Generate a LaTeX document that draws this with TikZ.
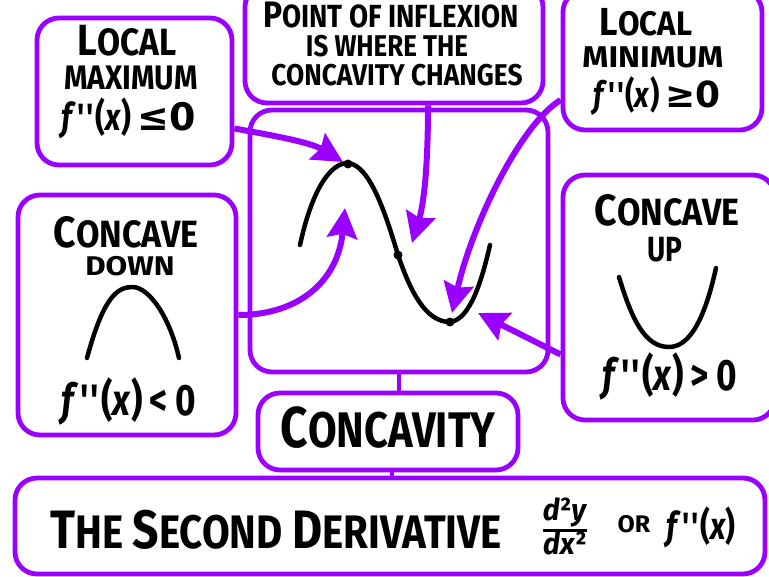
\documentclass[tikz,border=0pt]{standalone}
\usepackage{graphicx}
\usepackage{fontspec}
\setmainfont{Fira Sans}[FakeStretch=0.8]
\newfontfamily\symf{DejaVu Sans}
\usetikzlibrary{arrows.meta}
\definecolor{vio}{RGB}{153,0,255}
\newcommand\Ini[1]{\scalebox{1.15}{#1}}
\newcommand\Hs[2]{\scalebox{#1}[1]{#2}}
\newcommand\Fpp[1]{\textit{f}\kern1pt\textquotesingle\textquotesingle(\textit{x})#1}
\begin{document}
\begin{tikzpicture}[x=1pt,y=-1pt,
  bubble/.style={draw=vio, line width=4.8pt, rounded corners=22pt, inner sep=0pt},
  conn/.style={draw=vio, line width=6pt, -{Stealth[length=30pt,width=30pt,inset=4pt]}},
  link/.style={draw=vio, line width=4.8pt},
  curve/.style={draw=black, line width=4.5pt, line cap=round},
  dot/.style={circle, fill=black, inner sep=0pt, minimum size=9pt},
  lab/.style={font=\bfseries, inner sep=0pt, anchor=base}]
\useasboundingbox (0,0) rectangle (769,577);

% boxes
\node[bubble, minimum width=195pt, minimum height=147pt] (lmax) at (134.5,91.5) {};
\node[bubble, minimum width=298pt, minimum height=118pt] (inflex) at (394,44) {};
\node[bubble, minimum width=199pt, minimum height=140pt] (lmin) at (662.5,60) {};
\node[bubble, minimum width=298pt, minimum height=262pt] (graph) at (399,241) {};
\node[bubble, minimum width=218pt, minimum height=240pt] (cdown) at (127,315) {};
\node[bubble, minimum width=212pt, minimum height=245pt] (cup) at (669,297.5) {};
\node[bubble, minimum width=260pt, minimum height=77pt] (concav) at (388,431.5) {};
\node[bubble, minimum width=750pt, minimum height=96pt] (second) at (390,526) {};

% texts
\node[lab, font=\bfseries\fontsize{38}{38}\selectfont] (lmaxA) at (127,56) {\Hs{1.1}{\Ini{L}OCAL}};
\node[lab, font=\bfseries\fontsize{34}{34}\selectfont] (lmaxB) at (131,90) {\Hs{1.1}{MAXIMUM}};
\node[lab, font=\bfseries\fontsize{38}{38}\selectfont] (lmaxC) at (129,131) {\Fpp{\symf\,≤0}};

\node[lab, font=\bfseries\fontsize{32}{32}\selectfont] (infA) at (391,28) {\Hs{1.08}{\Ini{P}OINT OF INFLEXION}};
\node[lab, font=\bfseries\fontsize{30}{30}\selectfont] (infB) at (387,57) {\Hs{1.08}{IS WHERE THE}};
\node[lab, font=\bfseries\fontsize{30}{30}\selectfont] (infC) at (397,86) {\Hs{1.1}{CONCAVITY CHANGES}};

\node[lab, font=\bfseries\fontsize{34}{34}\selectfont] (lminA) at (646,36) {\Hs{1.15}{\Ini{L}OCAL}};
\node[lab, font=\bfseries\fontsize{30}{30}\selectfont] (lminB) at (653,68) {\Hs{1.38}{MINIMUM}};
\node[lab, font=\bfseries\fontsize{36}{36}\selectfont] (lminC) at (657,108) {\Fpp{\symf\,≥0}};

\node[lab, font=\bfseries\fontsize{38}{38}\selectfont] (cdA) at (126,248) {\Hs{1.12}{\Ini{C}ONCAVE}};
\node[lab, font=\bfseries\fontsize{27}{27}\selectfont] (cdB) at (130,276) {\Hs{1.45}{DOWN}};
\node[lab, font=\bfseries\fontsize{44}{44}\selectfont] (cdC) at (129,416) {\Fpp{\,<\,0}};

\node[lab, font=\bfseries\fontsize{38}{38}\selectfont] (cuA) at (667,226) {\Hs{1.12}{\Ini{C}ONCAVE}};
\node[lab, font=\bfseries\fontsize{35}{35}\selectfont] (cuB) at (665,262) {UP};
\node[lab, font=\bfseries\fontsize{44}{44}\selectfont] (cuC) at (670,391) {\Fpp{\,>\,0}};

\node[lab, font=\bfseries\fontsize{50}{50}\selectfont] (cvA) at (388,448) {\Hs{1.04}{\Ini{C}ONCAVITY}};

\node[lab, font=\bfseries\fontsize{47}{47}\selectfont] (sdA) at (276,548) {\Hs{1.07}{\Ini{T}HE \Ini{S}ECOND \Ini{D}ERIVATIVE}};
\node[inner sep=0pt, font=\bfseries\fontsize{30}{30}\selectfont] (sdB) at (565,530)
  {\Hs{1.2}{\setlength{\arrayrulewidth}{3pt}\renewcommand\arraystretch{0.85}%
   \begin{tabular}{@{}c@{}}\textit{d}²\textit{y}\\\hline \textit{dx}²\end{tabular}}};
\node[lab, font=\bfseries\fontsize{24}{24}\selectfont] (sdC) at (634,532) {\Hs{1.3}{OR}};
\node[lab, font=\bfseries\fontsize{38}{38}\selectfont] (sdD) at (701,539) {\Fpp{}};

% sketches
\draw[curve] (300,245) .. controls (312,190) and (330,163) .. (348,163)
  .. controls (370,165) and (386,215) .. (398,255)
  .. controls (410,290) and (425,322) .. (450,322)
  .. controls (470,320) and (482,280) .. (490,245);
\node[dot] (pmax) at (348,164) {};
\node[dot] (pinf) at (398,255) {};
\node[dot] (pmin) at (450,322) {};

\draw[curve] (87,358) .. controls (104,295) and (118,287) .. (133,287)
  .. controls (150,288) and (170,318) .. (179,358);
\draw[curve] (619,277) .. controls (632,320) and (645,347) .. (669,347)
  .. controls (690,347) and (705,318) .. (716,268);

% arrow ends
\coordinate (t1) at (343,162);
\coordinate (t2) at (345,208);
\coordinate (t3) at (412,243);
\coordinate (t4) at (452,313);
\coordinate (t5) at (478,313);

% connectors
\draw[conn] ([yshift=-37pt]lmax.east) .. controls (270,135) and (310,142) .. (t1);
\draw[conn] (cdown.east) .. controls (300,315) and (338,280) .. (t2);
\draw[conn] ([xshift=34pt]inflex.south) .. controls (428,180) and (422,210) .. (t3);
\draw[conn] ([yshift=-40pt]lmin.west) .. controls (520,125) and (472,225) .. (t4);
\draw[conn] ([yshift=-57pt]cup.west) -- (t5);
\draw[link] (graph.south) -- (graph.south |- concav.north);
\draw[link] ([xshift=4pt]concav.south) -- ([xshift=4pt]concav.south |- second.north);
\end{tikzpicture}
\end{document}
